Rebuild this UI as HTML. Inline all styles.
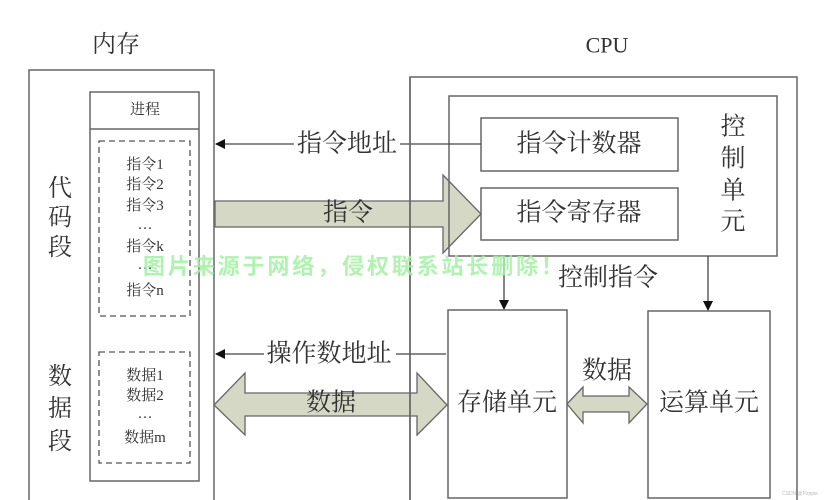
<!DOCTYPE html>
<html>
<head>
<meta charset="utf-8">
<style>
html,body{margin:0;padding:0;background:#fff;}
svg{display:block;}
.t{font-family:"Liberation Serif","Noto Serif CJK SC",serif;fill:#333;text-anchor:middle;dominant-baseline:central;}
</style>
</head>
<body>
<svg width="827" height="500" viewBox="0 0 827 500" xmlns="http://www.w3.org/2000/svg">
<defs>
<marker id="ah" markerWidth="10" markerHeight="10" refX="9" refY="5" orient="auto" markerUnits="userSpaceOnUse">
<path d="M0,0 L10,5 L0,10 Z" fill="#111"/>
</marker>
</defs>
<rect width="827" height="500" fill="#fff"/>

<!-- Titles -->
<text class="t" x="116" y="45" font-size="24">内存</text>
<text class="t" x="607" y="45" font-size="22">CPU</text>

<!-- Memory box -->
<path d="M29,502 V70 H214 V502" fill="none" stroke="#666" stroke-width="1.5"/>
<rect x="90" y="92" width="109" height="389" fill="#fff" stroke="#666" stroke-width="1.5"/>
<line x1="90" y1="129" x2="199" y2="129" stroke="#666" stroke-width="1.5"/>
<text class="t" x="145" y="110" font-size="15">进程</text>

<rect x="99" y="141" width="91" height="175" fill="none" stroke="#555" stroke-width="1.3" stroke-dasharray="6,4"/>
<rect x="99" y="352" width="91" height="111" fill="none" stroke="#555" stroke-width="1.3" stroke-dasharray="6,4"/>

<text class="t" x="145" y="165" font-size="15">指令1</text>
<text class="t" x="145" y="185" font-size="15">指令2</text>
<text class="t" x="145" y="206" font-size="15">指令3</text>
<text class="t" x="145" y="225" font-size="15">…</text>
<text class="t" x="145" y="247" font-size="15">指令k</text>
<text class="t" x="145" y="265" font-size="15">…</text>
<text class="t" x="145" y="291" font-size="15">指令n</text>
<text class="t" x="145" y="376" font-size="15">数据1</text>
<text class="t" x="145" y="396" font-size="15">数据2</text>
<text class="t" x="145" y="414" font-size="15">…</text>
<text class="t" x="145" y="438" font-size="15">数据m</text>

<text class="t" x="60" y="189" font-size="24">代</text>
<text class="t" x="60" y="218" font-size="24">码</text>
<text class="t" x="60" y="248" font-size="24">段</text>
<text class="t" x="60" y="377" font-size="24">数</text>
<text class="t" x="60" y="409" font-size="24">据</text>
<text class="t" x="60" y="442" font-size="24">段</text>

<!-- Fat arrows -->
<path d="M215,201 H443 V175 L481,214 L443,253 V227 H215 Z" fill="#d6d8c6" stroke="#666" stroke-width="1.3"/>
<text class="t" x="348" y="213" font-size="25">指令</text>

<path d="M214,405 L245,373 V393 H417 V373 L447,405 L417,435 V416 H245 V435 Z" fill="#d6d8c6" stroke="#666" stroke-width="1.3"/>
<text class="t" x="331" y="403" font-size="25">数据</text>

<path d="M567,404 L583,387 V396 H629 V387 L647,404 L629,423 V412 H583 V423 Z" fill="#d6d8c6" stroke="#666" stroke-width="1.3"/>
<text class="t" x="607" y="371" font-size="25">数据</text>

<!-- CPU box -->
<path d="M410,502 V77 H797 V502" fill="none" stroke="#666" stroke-width="1.5"/>
<rect x="449" y="96" width="328" height="160" fill="none" stroke="#666" stroke-width="1.5"/>
<rect x="481" y="118" width="197" height="53" fill="#fff" stroke="#666" stroke-width="1.5"/>
<rect x="481" y="188" width="197" height="52" fill="#fff" stroke="#666" stroke-width="1.5"/>
<text class="t" x="579" y="144" font-size="25">指令计数器</text>
<text class="t" x="579" y="213" font-size="25">指令寄存器</text>

<text class="t" x="733" y="127" font-size="25">控</text>
<text class="t" x="733" y="159" font-size="25">制</text>
<text class="t" x="733" y="191" font-size="25">单</text>
<text class="t" x="733" y="222" font-size="25">元</text>

<!-- address lines -->
<line x1="481" y1="144" x2="400" y2="144" stroke="#444" stroke-width="1.3"/>
<line x1="294" y1="144" x2="216" y2="144" stroke="#444" stroke-width="1.3" marker-end="url(#ah)"/>
<text class="t" x="347" y="144" font-size="25">指令地址</text>

<line x1="446" y1="354" x2="396" y2="354" stroke="#444" stroke-width="1.3"/>
<line x1="264" y1="354" x2="216" y2="354" stroke="#444" stroke-width="1.3" marker-end="url(#ah)"/>
<text class="t" x="329" y="354" font-size="25">操作数地址</text>

<!-- control arrows -->
<line x1="504" y1="256" x2="504" y2="309" stroke="#444" stroke-width="1.3" marker-end="url(#ah)"/>
<line x1="708" y1="256" x2="708" y2="310" stroke="#444" stroke-width="1.3" marker-end="url(#ah)"/>
<text class="t" x="608" y="278" font-size="25">控制指令</text>

<!-- storage and ALU -->
<rect x="448" y="310" width="119" height="188" fill="#fff" stroke="#666" stroke-width="1.5"/>
<rect x="648" y="311" width="122" height="187" fill="#fff" stroke="#666" stroke-width="1.5"/>
<text class="t" x="507" y="403" font-size="25">存储单元</text>
<text class="t" x="709" y="403" font-size="25">运算单元</text>

<!-- CPU left border drawn over arrows -->
<line x1="410" y1="77" x2="410" y2="502" stroke="#666" stroke-width="1.5"/>

<!-- watermark -->
<text x="143" y="274" font-family="'Noto Sans CJK SC',sans-serif" font-weight="bold" font-size="22" fill="#a2f0a2" fill-opacity="0.85" textLength="420" lengthAdjust="spacing">图片来源于网络，侵权联系站长删除！</text>

<text x="782" y="495" font-family="'Liberation Sans',sans-serif" font-size="5" fill="#bbb">CSDN @Pzppie</text>
</svg>
</body>
</html>
